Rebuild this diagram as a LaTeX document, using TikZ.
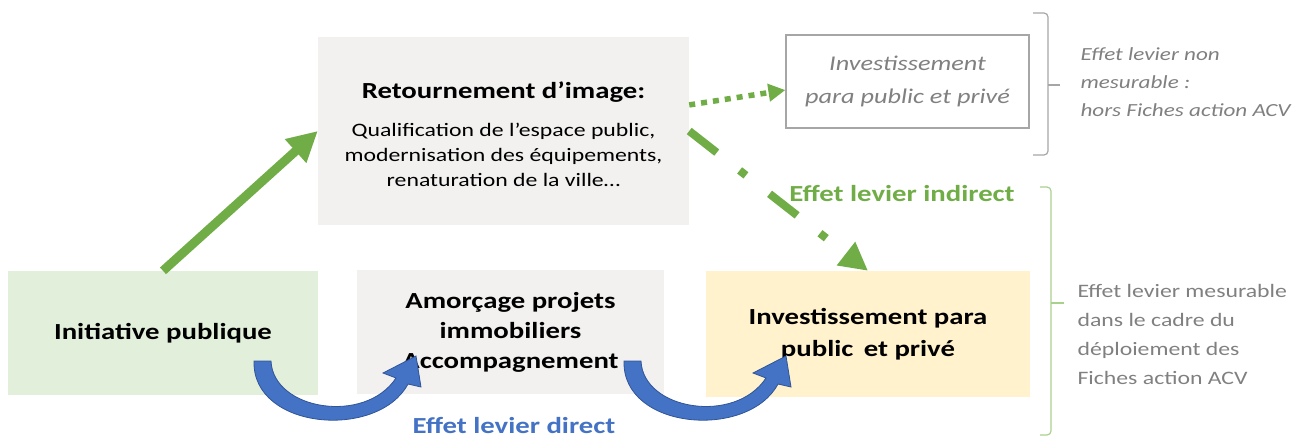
\documentclass[tikz,border=0pt]{standalone}
\usepackage{fontspec}
\setmainfont[FakeStretch=1.25]{Carlito}
\usetikzlibrary{arrows.meta}
\definecolor{levergreen}{RGB}{112,173,71}
\definecolor{leverblue}{RGB}{68,114,196}
\definecolor{darkblue}{RGB}{47,85,151}
\definecolor{initgreen}{RGB}{226,239,218}
\definecolor{boxgrey}{RGB}{242,241,240}
\definecolor{investyellow}{RGB}{255,242,204}
\definecolor{textgrey}{RGB}{128,128,128}
\definecolor{bracegrey}{RGB}{166,166,166}
\definecolor{bracegreen}{RGB}{169,209,142}

\begin{document}
\begin{tikzpicture}[x=1pt, y=-1pt,
    box/.style={rectangle, inner sep=0pt, align=center},
    bigtext/.style={font=\fontsize{23}{31}\selectfont\bfseries}]
    \useasboundingbox (0,0) rectangle (1311,437);

    % Boxes
    \node[box, fill=initgreen, minimum width=310, minimum height=124, bigtext] (init) at (163,333) {Initiative publique};
    \node[box, fill=boxgrey, minimum width=307, minimum height=124, font=\fontsize{23}{30}\selectfont\bfseries] (amorce) at (510.5,332) {Amorçage projets\\ immobiliers\\ Accompagnement};
    \node[box, fill=investyellow, minimum width=324, minimum height=126, font=\fontsize{23}{32}\selectfont\bfseries] (invest) at (868,334) {Investissement para\\ public\, et privé};
    \node[box, fill=boxgrey, minimum width=371, minimum height=188] (retour) at (503.5,131) {};
    \node[box, font=\fontsize{19}{25}\selectfont] (retourtext) at ([yshift=-3pt]retour.center)
        {{\fontsize{23}{28}\selectfont\bfseries Retournement d’image:}\\[13pt] Qualification de l’espace public,\\ modernisation des équipements,\\ renaturation de la ville…};
    \node[box, draw=bracegrey, line width=1.2, fill=white, minimum width=243, minimum height=93, text=textgrey, font=\fontsize{21}{33}\selectfont\itshape] (investtop) at (907.5,81.5) {Investissement\\ para public et privé};

    % Green arrows
    \draw[levergreen, line width=9, -{Triangle[length=30,width=30]}] (init.north) -- (retour.west);
    \draw[levergreen, line width=5.5, dash pattern=on 6 off 6, -{Triangle[length=17,width=17]}] (retour.8.6) -- (investtop.184);
    \draw[levergreen, line width=8, dash pattern=on 35 off 29 on 8 off 30, -{Triangle[length=28,width=28]}] (retour.east) -- (invest.north);

    % Blue curved arrows
    \foreach \dx in {0,370}
    {
        \begin{scope}[shift={(\dx,0)}]
            \filldraw[fill=leverblue, draw=darkblue, line width=0.8]
                (271,361) .. controls (273,410) and (365,425) .. (396,378)
                -- (383,373) -- (416,356) -- (421,387) -- (408,384)
                .. controls (378,440) and (252,430) .. (254,361) -- cycle;
        \end{scope}
    }

    % Labels
    \node[bigtext, text=levergreen] (indirect) at (902,193) {Effet levier indirect};
    \node[bigtext, text=leverblue] (direct) at (514,425) {Effet levier direct};

    % Braces
    \draw[bracegrey, line width=1.2, rounded corners=4] (1033,13) -| (1048,155) -- (1033,155);
    \draw[bracegrey, line width=1.2] (1048,85) -- (1060,85);
    \draw[bracegreen, line width=1.2, rounded corners=4] (1040,187) -| (1051,435) -- (1040,435);
    \draw[bracegreen, line width=1.2] (1051,303) -- (1064,303);

    \node[anchor=west, align=left, text=textgrey, font=\fontsize{18.5}{28}\selectfont\itshape] (nonmes) at (1077,82) {Effet levier non\\ mesurable :\\ hors Fiches action ACV};
    \node[anchor=west, align=left, text=textgrey, font=\fontsize{19}{29}\selectfont] (mes) at (1074,334) {Effet levier mesurable\\ dans le cadre du\\ déploiement des\\ Fiches action ACV};
\end{tikzpicture}
\end{document}
